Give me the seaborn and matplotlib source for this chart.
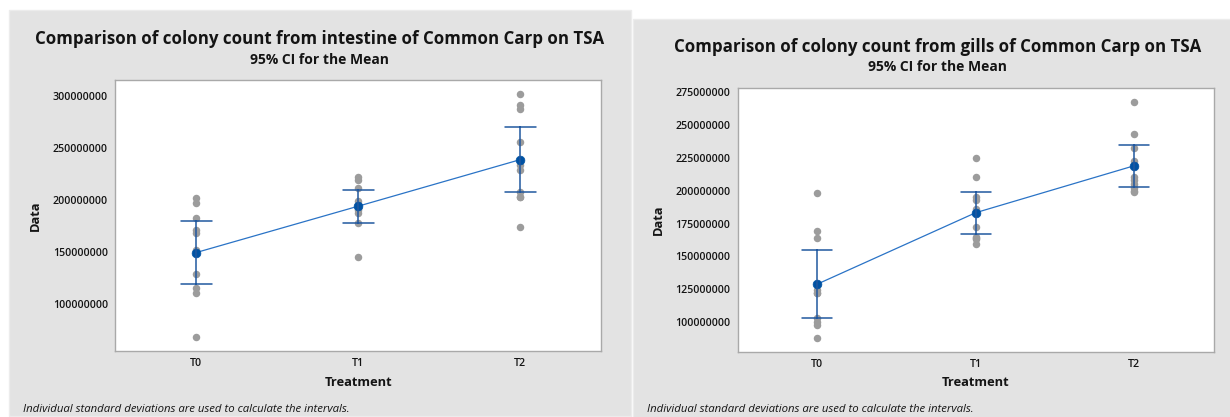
import matplotlib
matplotlib.use("Agg")
import matplotlib.pyplot as plt
from matplotlib.patches import Rectangle
import pandas as pd
import seaborn as sns

# Colony counts (CFU) per treatment, ten replicate plates each
treatments = ["T0", "T1", "T2"]

intestine_t0 = [201500000, 196700000, 182300000, 171100000, 167900000,
                152000000, 128600000, 115200000, 110900000, 68700000]
intestine_t1 = [222300000, 219100000, 211800000, 199000000, 195000000,
                192000000, 190300000, 187200000, 177500000, 145500000]
intestine_t2 = [301600000, 291000000, 287500000, 255900000, 233500000,
                228700000, 207900000, 203000000, 203000000, 174300000]

gills_t0 = [198000000, 169500000, 164200000, 124300000, 122000000,
            121800000, 102700000, 100100000, 97600000, 87500000]
gills_t1 = [224700000, 210200000, 195400000, 193000000, 186000000,
            172100000, 164500000, 164000000, 163500000, 159100000]
gills_t2 = [267400000, 243200000, 232300000, 222500000, 210700000,
            208200000, 205000000, 202000000, 200000000, 199200000]

intestine_ticks = [100000000, 150000000, 200000000, 250000000, 300000000]
gills_ticks = [100000000, 125000000, 150000000, 175000000, 200000000,
               225000000, 250000000, 275000000]

intestine_title = "Comparison of colony count from intestine of Common Carp on TSA"
gills_title = "Comparison of colony count from gills of Common Carp on TSA"
subtitle = "95% CI for the Mean"
footnote = "Individual standard deviations are used to calculate the intervals."

# two-sided 95% Student t quantile, 9 degrees of freedom (n = 10)
T_CRIT = 2.262


def long_frame(groups):
    rows = []
    for name, vals in zip(treatments, groups):
        rows += [{"Treatment": name, "Data": v} for v in vals]
    return pd.DataFrame(rows)


intestine_df = long_frame([intestine_t0, intestine_t1, intestine_t2])
gills_df = long_frame([gills_t0, gills_t1, gills_t2])

sns.set_theme(style="white")
plt.rcParams["font.family"] = ["Open Sans", "DejaVu Sans"]

W, H = 1230, 417
fig = plt.figure(figsize=(W / 100, H / 100), dpi=100)
fig.patch.set_facecolor("white")

PANEL = "#e3e3e3"
POINT_GRAY = "#9c9c9c"
LINE_BLUE = "#2a73c6"
MEAN_BLUE = "#0052a3"
CI_BLUE = "#21589f"
TEXT = "#141414"


def px_rect(x0, y0, x1, y1):
    return (x0 / W, 1 - y1 / H, (x1 - x0) / W, (y1 - y0) / H)


for x0, y0, x1, y1 in [(8.8, 10, 630.7, 415.7), (633.3, 19, 1232, 418)]:
    l, b, w, h = px_rect(x0, y0, x1, y1)
    fig.add_artist(Rectangle((l, b), w, h, transform=fig.transFigure,
                             facecolor=PANEL, edgecolor="#ececec", lw=1, zorder=0))


def draw_panel(ax, df, ylim, yticks):
    ax.set_facecolor("white")
    sns.stripplot(data=df, x="Treatment", y="Data", order=treatments,
                  jitter=False, color=POINT_GRAY, size=5.4, linewidth=0,
                  ax=ax, zorder=2)
    sns.pointplot(data=df, x="Treatment", y="Data", order=treatments,
                  estimator="mean", errorbar=("se", T_CRIT), capsize=0.19,
                  color=LINE_BLUE, markers="o", linestyles="-",
                  markersize=6.3, linewidth=0.9,
                  markerfacecolor=MEAN_BLUE, markeredgecolor=MEAN_BLUE,
                  markeredgewidth=0.5,
                  err_kws={"color": CI_BLUE, "linewidth": 1.1}, ax=ax)
    ax.set_xlim(-0.5, 2.5)
    ax.set_ylim(*ylim)
    ax.set_yticks(yticks)
    ax.set_yticklabels([str(v) for v in yticks], fontsize=7.7,
                       fontweight="semibold", color=TEXT)
    ax.set_xticks(range(len(treatments)))
    ax.set_xticklabels(treatments, fontsize=7.7, fontweight="semibold", color=TEXT)
    ax.tick_params(axis="both", direction="out", length=3.2, width=0.8,
                   color="#9a9a9a", pad=2.2)
    for s in ax.spines.values():
        s.set_color("#a9a9a9")
        s.set_linewidth(1.0)
    ax.grid(False)
    ax.set_xlabel("Treatment", fontsize=9.3, fontweight="bold", color=TEXT)
    ax.set_ylabel("Data", fontsize=9.3, fontweight="bold", color=TEXT)


ax1 = fig.add_axes(px_rect(115.3, 80, 601.4, 351))
ax2 = fig.add_axes(px_rect(737.9, 87.7, 1213.6, 351.7))

draw_panel(ax1, intestine_df, (55000000, 315000000), intestine_ticks)
draw_panel(ax2, gills_df, (77300000, 278500000), gills_ticks)

ax1.xaxis.set_label_coords(0.5, -0.092)
ax2.xaxis.set_label_coords(0.5, -0.092)
ax1.yaxis.set_label_coords(-0.152, 0.5)
ax2.yaxis.set_label_coords(-0.154, 0.5)

fig.text(320 / W, 1 - 39.3 / H, intestine_title, ha="center", va="center",
         fontsize=12.2, fontweight="bold", color=TEXT)
fig.text(319 / W, 1 - 60 / H, subtitle, ha="center", va="center",
         fontsize=10, fontweight="bold", color=TEXT)
fig.text(938 / W, 1 - 47.3 / H, gills_title, ha="center", va="center",
         fontsize=12.2, fontweight="bold", color=TEXT)
fig.text(937 / W, 1 - 66.7 / H, subtitle, ha="center", va="center",
         fontsize=10, fontweight="bold", color=TEXT)

fig.text(23.3 / W, 1 - 409 / H, footnote, ha="left", va="center",
         fontsize=8.2, style="italic", color=TEXT)
fig.text(647 / W, 1 - 409 / H, footnote, ha="left", va="center",
         fontsize=8.2, style="italic", color=TEXT)

fig.savefig("out.png", dpi=100, facecolor=fig.get_facecolor())
